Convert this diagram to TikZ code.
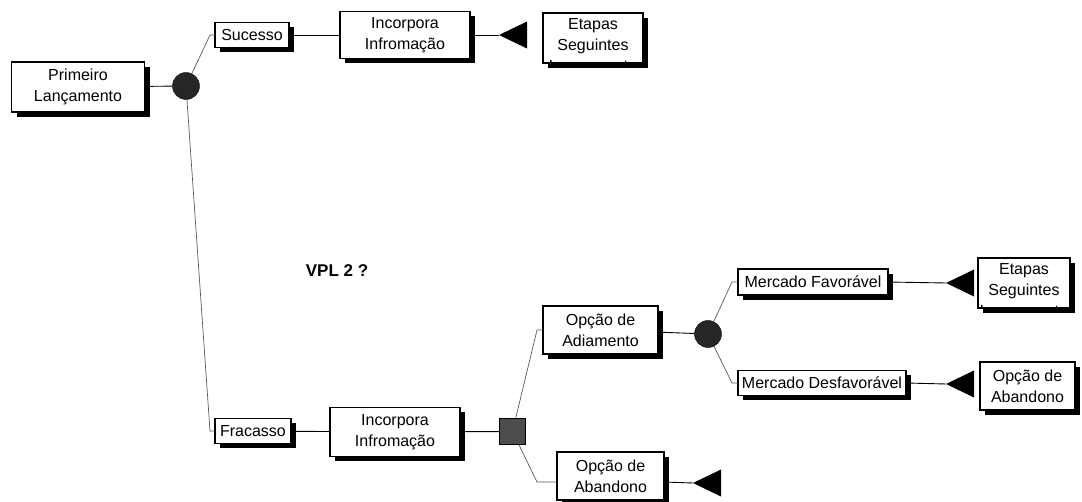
\documentclass[tikz,border=0pt]{standalone}
\usepackage{fontspec}
\setmainfont{Liberation Sans}
\usetikzlibrary{shadows}

\newcommand{\stoptri}[1]{\fill (#1) -- ++(28,-13.5) -- ++(0,27) -- cycle;}% end point marker

\begin{document}
\begin{tikzpicture}[
x=1pt, y=-1pt,
    box/.style = {rectangle, draw, fill=white, line width=1.1pt,% boxes of the tree
                  align=center, inner sep=1pt, outer sep=0pt,
                  font=\fontsize{16}{21}\selectfont,
                  drop shadow={shadow xshift=5pt, shadow yshift=-5pt,
                               fill=black, opacity=1}},
    txt/.style = {align=center, inner sep=1pt, font=\fontsize{16}{21}\selectfont},
 chance/.style = {circle, draw, fill=black!85, minimum size=27pt, inner sep=0pt},
 choice/.style = {rectangle, draw, fill=black!70, minimum size=26pt, inner sep=0pt},
     ln/.style = {line width=0.9pt},
  slant/.style = {draw=black!65, line width=0.7pt},
                        ]
\useasboundingbox (0,0) rectangle (1082,502);
% upper branch
\node[box, minimum width=133pt, minimum height=50pt] (P1) at (78,87) {Primeiro\\Lançamento};
\node[chance] (C1) at (186,86) {};
\node[box, minimum width=74pt, minimum height=25pt] (S) at (252,35) {Sucesso};
\node[box, minimum width=130pt, minimum height=47pt] (I1) at (405,35) {Incorpora\\Infromação};
\coordinate (T1) at (499,35);
\node[box, minimum width=100pt, minimum height=50pt] (E1) at (593,38) {};
\begin{scope}
  \clip (E1.north west) rectangle (E1.south east);
  \node[txt, anchor=north] (E1txt) at ([yshift=-4pt]E1.north) {Etapas\\Seguintes\\Lançamento};
\end{scope}
% lower branch
\node[box, minimum width=76pt, minimum height=25pt] (F) at (253,431) {Fracasso};
\node[box, minimum width=130pt, minimum height=49pt] (I2) at (395,432) {Incorpora\\Infromação};
\node[choice] (D) at (512.5,431.5) {};
\node[box, minimum width=115pt, minimum height=48pt] (A1) at (600.5,330) {Opção de\\Adiamento};
\node[box, minimum width=107pt, minimum height=48pt] (A2) at (610.5,476) {Opção de\\Abandono};
\coordinate (T2) at (693,483);
\node[chance] (C2) at (708,334) {};
\node[box, minimum width=150pt, minimum height=26pt] (MF) at (813,282) {Mercado Favorável};
\node[box, minimum width=168pt, minimum height=25pt] (MD) at (822,383) {Mercado Desfavorável};
\coordinate (T3) at (946,283);
\coordinate (T4) at (946,384);
\node[box, minimum width=92pt, minimum height=50pt] (E2) at (1024,283) {};
\begin{scope}
  \clip (E2.north west) rectangle (E2.south east);
  \node[txt, anchor=north] (E2txt) at ([yshift=-4pt]E2.north) {Etapas\\Seguintes\\Lançamento};
\end{scope}
\node[box, minimum width=95pt, minimum height=48pt] (A3) at (1027.5,386) {Opção de\\Abandono};
\node[font=\fontsize{17}{20}\selectfont\bfseries] (vpl) at (337,271) {VPL 2 ?};
% end markers
\stoptri{T1} \stoptri{T2} \stoptri{T3} \stoptri{T4}
% connectors
\draw[ln] (P1) -- (C1);
\draw[slant] (C1) -- ([xshift=-5pt]S.west) -- (S.west);
\draw[slant] (C1) -- ([xshift=-5pt]F.west) -- (F.west);
\draw[ln] (S) -- (I1);
\draw[ln] (I1.east) -- (T1);
\draw[ln] (F) -- (I2);
\draw[ln] (I2) -- (D);
\draw[slant] (D) -- ([xshift=-6pt]A1.west) -- (A1.west);
\draw[slant] (D) -- ([xshift=-20pt,yshift=-6pt]A2.west) -- ([yshift=-6pt]A2.west);
\draw[ln] ([yshift=-6pt]A2.east) -- (T2);
\draw[ln] (A1) -- (C2);
\draw[slant] (C2) -- ([xshift=-6pt]MF.west) -- (MF.west);
\draw[slant] (C2) -- ([xshift=-6pt]MD.west) -- (MD.west);
\draw[ln] (MF.east) -- (T3);
\draw[ln] (MD.east) -- (T4);
\end{tikzpicture}
\end{document}
